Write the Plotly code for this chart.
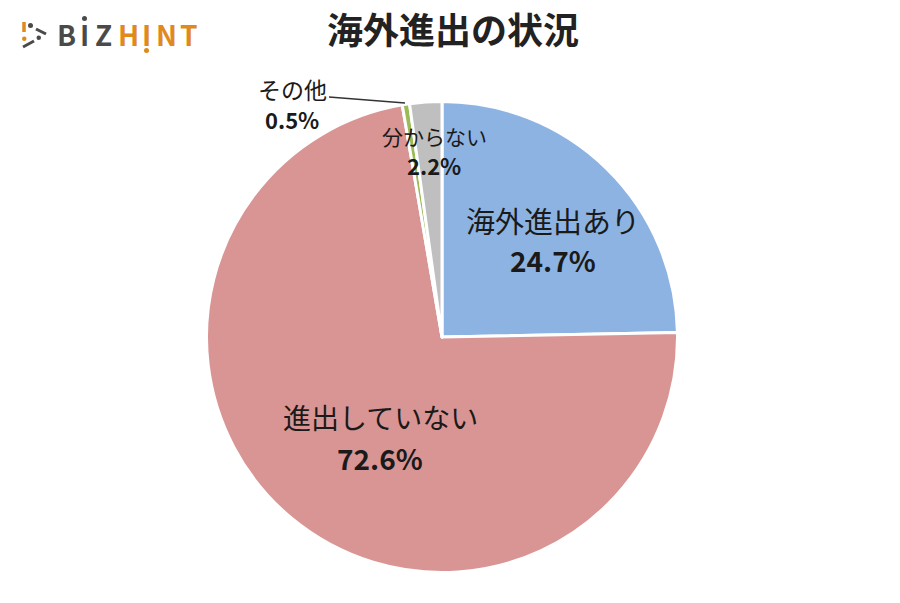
import plotly.graph_objects as go

# --- Data ---
categories = ["海外進出あり", "進出していない", "その他", "分からない"]
values = [24.7, 72.6, 0.5, 2.2]
colors = ["#8DB3E2", "#D99594", "#9BBB59", "#BFBFBF"]

W, H = 900, 603
JP = "Noto Sans CJK JP"


def px(x):
    return x / W


def py(y):
    return 1 - y / H


fig = go.Figure(go.Pie(
    labels=categories,
    values=values,
    sort=False,
    direction="clockwise",
    rotation=0,
    textinfo="none",
    hoverinfo="label+percent",
    marker=dict(colors=colors, line=dict(color="white", width=3)),
    domain=dict(x=[px(206.5), px(677.5)], y=[py(572.5), py(101.5)]),
    showlegend=False,
))

annotations = []


def text(x, y, s, size, color="#1a1a1a", bold=False):
    annotations.append(dict(
        x=px(x), y=py(y), xref="paper", yref="paper", text=f"<b>{s}</b>" if bold else s,
        showarrow=False, xanchor="center", yanchor="middle",
        font=dict(family=JP, size=size, color=color),
    ))


# title
text(453, 28, "海外進出の状況", 36, "#222222", True)

# slice labels
label_pos = [(553, 220, 260), (380, 417, 458), (292, 89, 119), (434, 136, 165)]
label_size = [29, 28, 23, 21]
pct_size = [28, 28, 22, 22]
for i, (cx, y1, y2) in enumerate(label_pos):
    text(cx, y1, categories[i], label_size[i])
    text(cx, y2, f"{values[i]}%", pct_size[i], bold=True)

# logo letters
gray = "#4a4a4a"
orange = "#E08A1E"
for x, ch in zip([66, 84, 103], "BIZ"):
    text(x, 34, ch, 28, gray, True)
for x, ch in zip([128, 146, 166, 189], "HINT"):
    text(x, 34, ch, 28, orange, True)

shapes = [
    # leader line for その他
    dict(type="line", xref="paper", yref="paper", x0=px(329), y0=py(97), x1=px(405), y1=py(103),
         line=dict(color="#333333", width=1.5)),
    # logo icon
    dict(type="line", xref="paper", yref="paper", x0=px(24), y0=py(22), x1=px(24), y1=py(32),
         line=dict(color=orange, width=3.5)),
    dict(type="circle", xref="paper", yref="paper", x0=px(22), y0=py(41), x1=px(26.5), y1=py(36.5),
         fillcolor=orange, line_width=0),
    dict(type="circle", xref="paper", yref="paper", x0=px(28), y0=py(28), x1=px(33), y1=py(23),
         fillcolor=gray, line_width=0),
    dict(type="line", xref="paper", yref="paper", x0=px(36), y0=py(29), x1=px(46), y1=py(34),
         line=dict(color=gray, width=3)),
    dict(type="circle", xref="paper", yref="paper", x0=px(36.5), y0=py(40), x1=px(41), y1=py(35.5),
         fillcolor=gray, line_width=0),
    dict(type="line", xref="paper", yref="paper", x0=px(23), y0=py(47), x1=px(34), y1=py(41),
         line=dict(color=gray, width=3)),
    # dots on the logo I letters
    dict(type="circle", xref="paper", yref="paper", x0=px(82), y0=py(21), x1=px(87), y1=py(16),
         fillcolor=gray, line_width=0),
    dict(type="circle", xref="paper", yref="paper", x0=px(144), y0=py(53), x1=px(149), y1=py(48),
         fillcolor=orange, line_width=0),
]

fig.update_layout(
    width=W, height=H,
    margin=dict(l=0, r=0, t=0, b=0),
    paper_bgcolor="white",
    annotations=annotations,
    shapes=shapes,
)

# page has a default 8px body margin, drop it so the figure sits at 0,0
fig.write_html("out.html", config={"displayModeBar": False},
               post_script="document.body.style.margin='0';")
